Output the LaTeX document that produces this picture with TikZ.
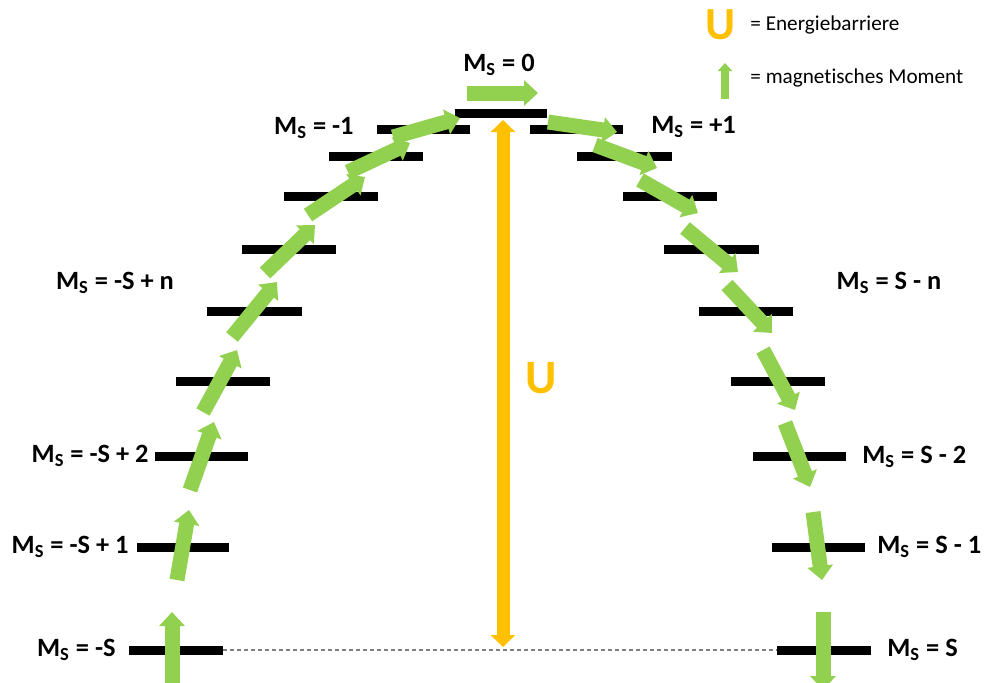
\documentclass[tikz,border=0pt]{standalone}
\usepackage{fontspec}
\setmainfont{Carlito}[Ligatures=NoCommon]
\usetikzlibrary{arrows.meta}
\definecolor{spingreen}{HTML}{92D050}
\definecolor{barrier}{HTML}{FFC000}
\tikzset{
  level/.style={line width=4.5pt},
  spin/.style={spingreen, line width=7.5pt, -{Triangle[width=12.5pt,length=7pt]}},
  lab/.style={font=\fontsize{13.2}{15}\selectfont\bfseries, inner sep=0pt},
}
\newcommand{\Ms}{M\textsubscript{S}}

\begin{document}
\begin{tikzpicture}[x=0.5pt,y=-0.5pt]
\clip (0,0) rectangle (989,682);
% energy levels, left branch
\draw[level] (129,650) -- (223,650);
\draw[level] (137,547) -- (229,547);
\draw[level] (155,456) -- (248,456);
\draw[level] (176,381) -- (270,381);
\draw[level] (207,311) -- (302,311);
\draw[level] (242,249) -- (336,249);
\draw[level] (284,196) -- (378,196);
\draw[level] (329,156) -- (423,156);
\draw[level] (377,129) -- (470,129);
% top level
\draw[level] (455,113) -- (547,113);
% right branch
\draw[level] (530,129) -- (623,129);
\draw[level] (577,156) -- (672,156);
\draw[level] (623,196) -- (717,196);
\draw[level] (664,249) -- (759,249);
\draw[level] (699,311) -- (793,311);
\draw[level] (731,381) -- (825,381);
\draw[level] (753,456) -- (846,456);
\draw[level] (772,547) -- (865,547);
\draw[level] (777,650) -- (871,650);

% ground line and barrier
\coordinate (gl) at (223,650);
\coordinate (gr) at (777,650);
\coordinate (top) at (503,120);
\coordinate (bot) at (503,647);
\draw[gray, line width=0.6pt, dash pattern=on 2pt off 1.5pt] (gl) -- (gr);
\draw[barrier, line width=6.5pt, {Triangle[width=12pt,length=6pt]}-{Triangle[width=12pt,length=6pt]}] (top) -- (bot);
\node[barrier, font=\fontsize{24}{26}\selectfont\bfseries] (U) at (541,378) {U};

% magnetic moments
\draw[spin] (172,690) -- (172,612);
\draw[spin] (177,580) -- (189,510);
\draw[spin] (190,490) -- (214,422);
\draw[spin] (203,412) -- (237,350);
\draw[spin] (232,337) -- (277,282);
\draw[spin] (265,273) -- (315,225);
\draw[spin] (308,215) -- (365,177);
\draw[spin] (348,172) -- (410,143);
\draw[spin] (393,137) -- (460,118);
\draw[spin] (467,93) -- (538,93);
\draw[spin] (548,122) -- (617,132);
\draw[spin] (595,145) -- (657,168);
\draw[spin] (640,180) -- (698,213);
\draw[spin] (685,228) -- (738,272);
\draw[spin] (727,285) -- (772,333);
\draw[spin] (763,350) -- (795,410);
\draw[spin] (785,423) -- (810,487);
\draw[spin] (813,512) -- (822,580);
\draw[spin] (823,612) -- (823,690);

% level labels
\node[lab, anchor=east] (mS) at (116,650) {\Ms{} = -S};
\node[lab, anchor=east] (mS1) at (129,547) {\Ms{} = -S + 1};
\node[lab, anchor=east] (mS2) at (149,456) {\Ms{} = -S + 2};
\node[lab] (mSn) at (115,283) {\Ms{} = -S + n};
\node[lab, anchor=east] (m1) at (354,128) {\Ms{} = -1};
\node[lab] (z) at (499,65) {\Ms{} = 0};
\node[lab, anchor=west] (p1) at (651,127) {\Ms{} = +1};
\node[lab] (pSn) at (889,283) {\Ms{} = S - n};
\node[lab, anchor=west] (pS2) at (862,457) {\Ms{} = S - 2};
\node[lab, anchor=west] (pS1) at (877,547) {\Ms{} = S - 1};
\node[lab, anchor=west] (pS) at (887,650) {\Ms{} = S};

% legend
\node[barrier, font=\fontsize{23}{25}\selectfont\bfseries] (keyU) at (721,25) {U};
\node[anchor=west, font=\fontsize{10.6}{12}\selectfont, inner sep=0pt] (keyUt) at (750,25) {= Energiebarriere};
\coordinate (ka) at (725,99);
\coordinate (kb) at (725,63);
\draw[spingreen, line width=4pt, -{Triangle[width=7pt,length=4pt]}] (ka) -- (kb);
\node[anchor=west, font=\fontsize{10.6}{12}\selectfont, inner sep=0pt] (keyMt) at (750,78) {= magnetisches Moment};
\end{tikzpicture}
\end{document}
